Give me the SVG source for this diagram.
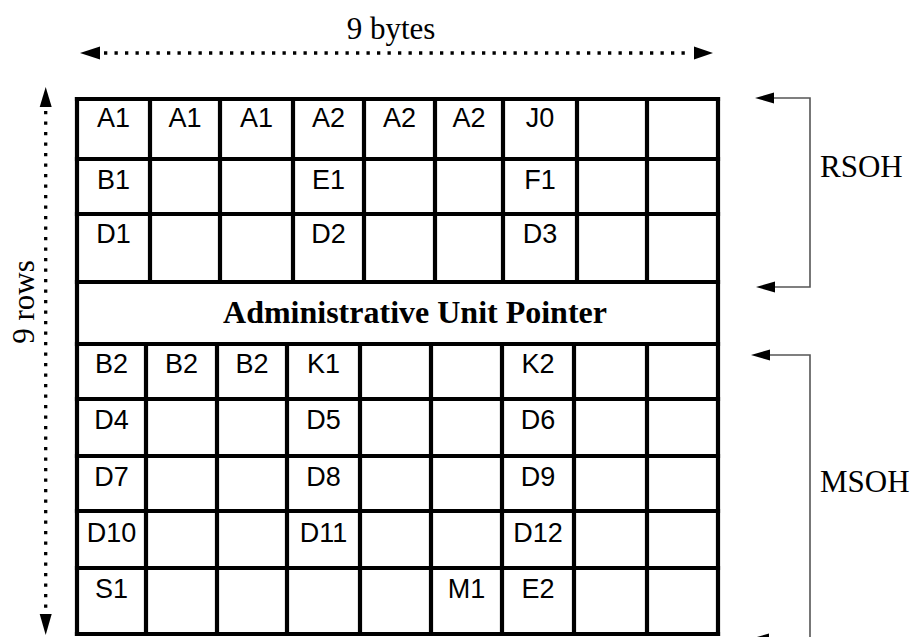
<svg xmlns="http://www.w3.org/2000/svg" width="912" height="637" viewBox="0 0 912 637">
<style>
.grid line{stroke:#000;stroke-width:4.2;stroke-linecap:square}
.cell{font-family:"Liberation Sans",Arial,sans-serif;font-size:27px;fill:#000;text-anchor:middle}
.lbl{font-family:"Liberation Serif","Times New Roman",serif;font-size:31px;fill:#000}
.au{font-family:"Liberation Serif","Times New Roman",serif;font-size:32px;font-weight:bold;fill:#000;text-anchor:middle}
.dot{stroke:#000;stroke-width:3.3;stroke-dasharray:3.3 7.2;fill:none}
.br{stroke:#555;stroke-width:1.6;fill:none}
</style>
<rect width="912" height="637" fill="#fff"/>
<g id="frame" class="grid">
<line x1="77" y1="99" x2="718" y2="99"/>
<line x1="77" y1="159" x2="718" y2="159"/>
<line x1="77" y1="214" x2="718" y2="214"/>
<line x1="77" y1="282" x2="718" y2="282"/>
<line x1="77" y1="344" x2="718" y2="344"/>
<line x1="77" y1="399" x2="718" y2="399"/>
<line x1="77" y1="456" x2="718" y2="456"/>
<line x1="77" y1="511" x2="718" y2="511"/>
<line x1="77" y1="568" x2="718" y2="568"/>
<line x1="77" y1="634" x2="718" y2="634"/>
<line x1="77" y1="99" x2="77" y2="634"/>
<line x1="718" y1="99" x2="718" y2="634"/>
<line x1="150" y1="99" x2="150" y2="282"/>
<line x1="220" y1="99" x2="220" y2="282"/>
<line x1="293" y1="99" x2="293" y2="282"/>
<line x1="364" y1="99" x2="364" y2="282"/>
<line x1="435" y1="99" x2="435" y2="282"/>
<line x1="503" y1="99" x2="503" y2="282"/>
<line x1="577" y1="99" x2="577" y2="282"/>
<line x1="647" y1="99" x2="647" y2="282"/>
<line x1="146" y1="344" x2="146" y2="634"/>
<line x1="217" y1="344" x2="217" y2="634"/>
<line x1="287" y1="344" x2="287" y2="634"/>
<line x1="360" y1="344" x2="360" y2="634"/>
<line x1="431" y1="344" x2="431" y2="634"/>
<line x1="502" y1="344" x2="502" y2="634"/>
<line x1="574" y1="344" x2="574" y2="634"/>
<line x1="647" y1="344" x2="647" y2="634"/>
</g>
<g id="row1" class="cell">
<text x="113.5" y="127">A1</text><text x="185" y="127">A1</text><text x="256.5" y="127">A1</text>
<text x="328.5" y="127">A2</text><text x="399.5" y="127">A2</text><text x="469" y="127">A2</text>
<text x="540" y="127">J0</text>
</g>
<g id="row2" class="cell">
<text x="113.5" y="189">B1</text><text x="328.5" y="189">E1</text><text x="540" y="189">F1</text>
</g>
<g id="row3" class="cell">
<text x="113.5" y="243">D1</text><text x="328.5" y="243">D2</text><text x="540" y="243">D3</text>
</g>
<g id="au-pointer">
<text class="au" x="415" y="323">Administrative Unit Pointer</text>
</g>
<g id="row5" class="cell">
<text x="111.5" y="373">B2</text><text x="181.5" y="373">B2</text><text x="252" y="373">B2</text>
<text x="323.5" y="373">K1</text><text x="538" y="373">K2</text>
</g>
<g id="row6" class="cell">
<text x="111.5" y="429">D4</text><text x="323.5" y="429">D5</text><text x="538" y="429">D6</text>
</g>
<g id="row7" class="cell">
<text x="111.5" y="486">D7</text><text x="323.5" y="486">D8</text><text x="538" y="486">D9</text>
</g>
<g id="row8" class="cell">
<text x="111.5" y="542">D10</text><text x="323.5" y="542">D11</text><text x="538" y="542">D12</text>
</g>
<g id="row9" class="cell">
<text x="111.5" y="598">S1</text><text x="466.5" y="598">M1</text><text x="538" y="598">E2</text>
</g>
<g id="label-bytes"><text class="lbl" x="391" y="39" text-anchor="middle">9 bytes</text></g>
<g id="label-rows"><text class="lbl" transform="translate(34,302) rotate(-90)" text-anchor="middle">9 rows</text></g>
<g id="label-rsoh"><text class="lbl" x="820" y="177">RSOH</text></g>
<g id="label-msoh"><text class="lbl" x="820" y="492">MSOH</text></g>
<g id="connectors">
<line class="dot" x1="104" y1="53" x2="692" y2="53"/>
<polygon points="80,53 100,46.5 100,59.5"/>
<polygon points="713,53 694,46.5 694,59.5"/>
<line class="dot" x1="45.7" y1="111" x2="45.7" y2="612"/>
<polygon points="45.7,87 39.7,107 51.7,107"/>
<polygon points="45.7,635 39.7,614 51.7,614"/>
<polyline class="br" points="772,98 810,98 810,287 772,287"/>
<polygon points="755,98 774,92.5 774,103.5"/>
<polygon points="756,287 775,281.5 775,292.5"/>
<polyline class="br" points="768,355 810,355 810,640 768,640"/>
<polygon points="751,355 770,349.5 770,360.5"/>
<polygon points="750,639 769,633.5 769,644.5"/>
</g>
</svg>
